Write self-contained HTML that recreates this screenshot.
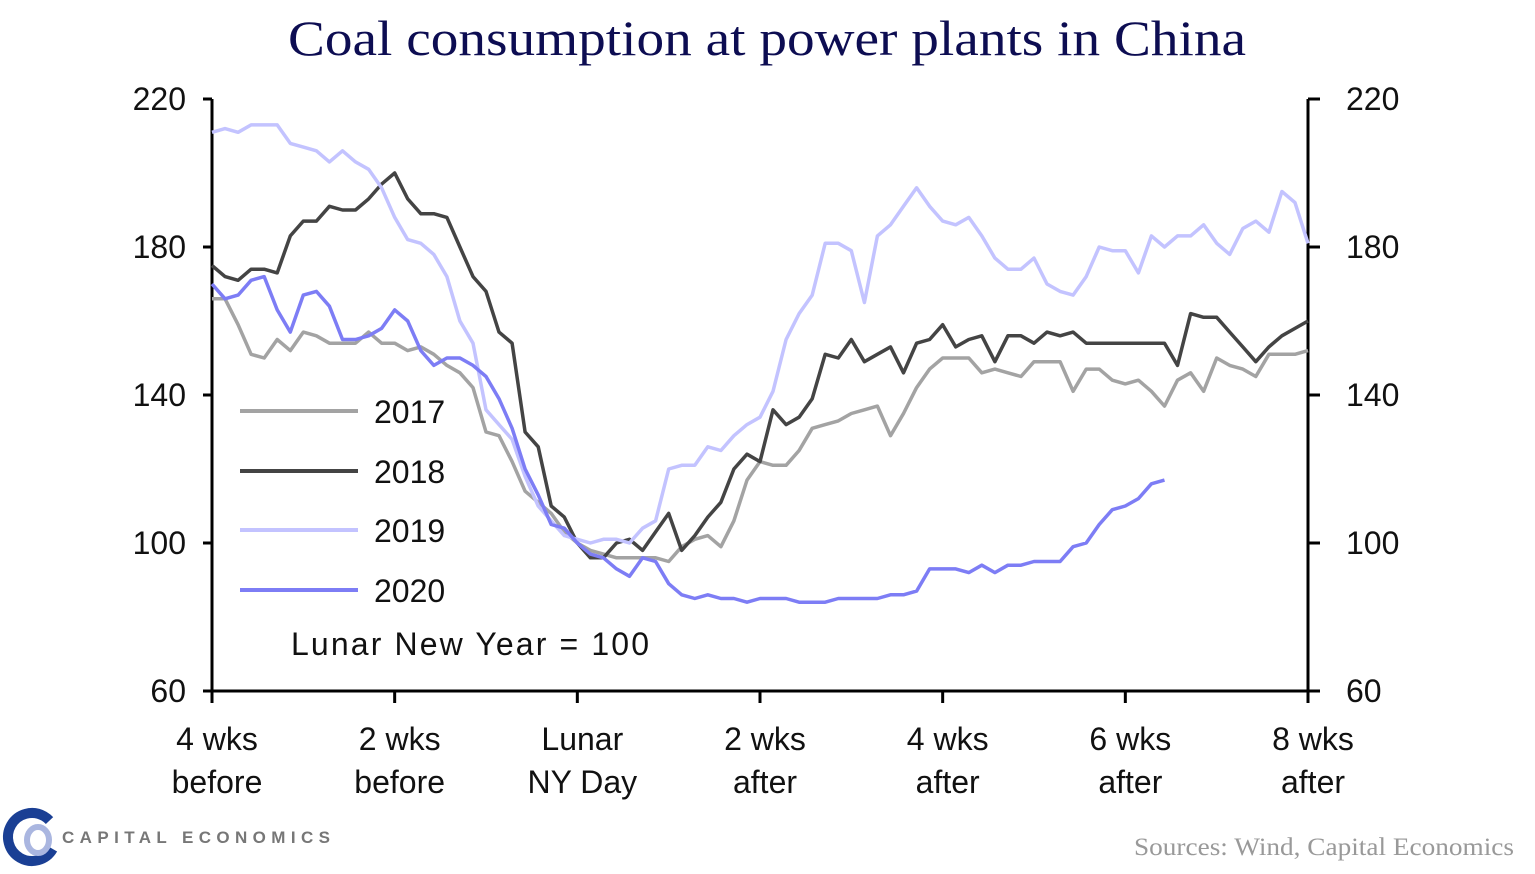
<!DOCTYPE html>
<html><head><meta charset="utf-8"><style>
body{margin:0;background:#fff;}
svg{display:block;}
</style></head><body>
<svg id="chart" width="1535" height="874" viewBox="0 0 1535 874" xmlns="http://www.w3.org/2000/svg">
<text x="288" y="55" textLength="958" lengthAdjust="spacingAndGlyphs" font-family="Liberation Serif, serif" font-size="50" fill="#0d0d52">Coal consumption at power plants in China</text>
<g id="axes"></g>
<g id="series"></g>
<g font-family="Liberation Sans, sans-serif" font-size="32" fill="#111">
<line x1="240" y1="411" x2="358" y2="411" stroke="#a3a3a3" stroke-width="4"/>
<text x="374" y="423">2017</text>
<line x1="240" y1="471" x2="358" y2="471" stroke="#444" stroke-width="4"/>
<text x="374" y="483">2018</text>
<line x1="240" y1="530" x2="358" y2="530" stroke="#c3c3ff" stroke-width="4"/>
<text x="374" y="542">2019</text>
<line x1="240" y1="590" x2="358" y2="590" stroke="#7d7df5" stroke-width="4"/>
<text x="374" y="602">2020</text>
<text x="291" y="655" textLength="358" lengthAdjust="spacing">Lunar New Year = 100</text>
</g>
<g>
<circle cx="32" cy="837" r="24" fill="none" stroke="#1a3f94" stroke-width="10" stroke-dasharray="120 40" transform="rotate(30 32 837)"/>
<ellipse cx="38" cy="840" rx="11" ry="13" fill="none" stroke="#aab6e0" stroke-width="6"/>
<text x="62" y="843" textLength="268" lengthAdjust="spacing" font-family="Liberation Sans, sans-serif" font-weight="bold" font-size="17" fill="#777">CAPITAL ECONOMICS</text>
</g>
<text x="1134" y="855" textLength="380" lengthAdjust="spacingAndGlyphs" font-family="Liberation Serif, serif" font-size="25" fill="#999">Sources: Wind, Capital Economics</text>
</svg>
<script>
const yTicks=[60,100,140,180,220];
const xTickDays=[-28,-14,0,14,28,42,56];
const xTickLine1=["4 wks","2 wks","Lunar","2 wks","4 wks","6 wks","8 wks"];
const xTickLine2=["before","before","NY Day","after","after","after","after"];
const startDay=-28;
const s2017=[166,166,159,151,150,155,152,157,156,154,154,154,157,154,154,152,153,151,148,146,142,130,129,122,114,111,108,103,100,98,97,96,96,96,96,95,99,101,102,99,106,117,122,121,121,125,131,132,133,135,136,137,129,135,142,147,150,150,150,146,147,146,145,149,149,149,141,147,147,144,143,144,141,137,144,146,141,150,148,147,145,151,151,151,152];
const s2018=[175,172,171,174,174,173,183,187,187,191,190,190,193,197,200,193,189,189,188,180,172,168,157,154,130,126,110,107,100,96,96,100,101,98,103,108,98,102,107,111,120,124,122,136,132,134,139,151,150,155,149,151,153,146,154,155,159,153,155,156,149,156,156,154,157,156,157,154,154,154,154,154,154,154,148,162,161,161,157,153,149,153,156,158,160];
const s2019=[211,212,211,213,213,213,208,207,206,203,206,203,201,196,188,182,181,178,172,160,154,136,132,128,118,110,106,102,101,100,101,101,100,104,106,120,121,121,126,125,129,132,134,141,155,162,167,181,181,179,165,183,186,191,196,191,187,186,188,183,177,174,174,177,170,168,167,172,180,179,179,173,183,180,183,183,186,181,178,185,187,184,195,192,181];
const s2020=[170,166,167,171,172,163,157,167,168,164,155,155,156,158,163,160,152,148,150,150,148,145,139,131,120,113,105,104,100,97,96,93,91,96,95,89,86,85,86,85,85,84,85,85,85,84,84,84,85,85,85,85,86,86,87,93,93,93,92,94,92,94,94,95,95,95,99,100,105,109,110,112,116,117];
const X0=212,X1=1308,Y0=691,Y1=99;
const xs=d=>X0+(d-startDay)/84*(X1-X0);
const ys=v=>Y0-(v-60)/160*(Y0-Y1);
const NS="http://www.w3.org/2000/svg";
function mk(tag,attrs,parent){const e=document.createElementNS(NS,tag);for(const k in attrs)e.setAttribute(k,attrs[k]);parent.appendChild(e);return e;}
const ax=document.getElementById('axes');
let e;
e=mk('line',{x1:X0,y1:Y1,x2:X0,y2:Y0,stroke:'#000','stroke-width':3},ax);


e=mk('line',{x1:X1,y1:Y1,x2:X1,y2:Y0,stroke:'#000','stroke-width':3},ax);


e=mk('line',{x1:X0,y1:Y0,x2:X1,y2:Y0,stroke:'#000','stroke-width':3},ax);


yTicks.forEach(v=>{
  const y=ys(v);
  mk('line',{x1:X0-9,y1:y,x2:X0,y2:y,stroke:'#000','stroke-width':3},ax);
  mk('line',{x1:X1,y1:y,x2:X1+12,y2:y,stroke:'#000','stroke-width':3},ax);
  e=mk('text',{x:X0-26,y:y+11,'text-anchor':'end','font-family':'Liberation Sans, sans-serif','font-size':32,fill:'#111'},ax);
  e.textContent=v;
  
  
  e=mk('text',{x:X1+38,y:y+11,'text-anchor':'start','font-family':'Liberation Sans, sans-serif','font-size':32,fill:'#111'},ax);
  e.textContent=v;
  
  
});
xTickDays.forEach((d,i)=>{
  const x=xs(d);
  mk('line',{x1:x,y1:Y0,x2:x,y2:Y0+12,stroke:'#000','stroke-width':3},ax);
  e=mk('text',{x:x+5,y:750,'text-anchor':'middle','font-family':'Liberation Sans, sans-serif','font-size':32,fill:'#111'},ax);
  e.textContent=xTickLine1[i];
  
  
  e=mk('text',{x:x+5,y:793,'text-anchor':'middle','font-family':'Liberation Sans, sans-serif','font-size':32,fill:'#111'},ax);
  e.textContent=xTickLine2[i];
  
  
});
const sg=document.getElementById('series');
[[s2017,'#a3a3a3','2017'],[s2018,'#444','2018'],[s2019,'#c3c3ff','2019'],[s2020,'#7d7df5','2020']].forEach(([arr,c,n])=>{
  const pts=arr.map((v,i)=>xs(startDay+i).toFixed(1)+','+ys(v).toFixed(1)).join(' ');
  e=mk('polyline',{points:pts,fill:'none',stroke:c,'stroke-width':3.5,'stroke-linejoin':'round'},sg);
  
  
});
</script>
</body></html>
